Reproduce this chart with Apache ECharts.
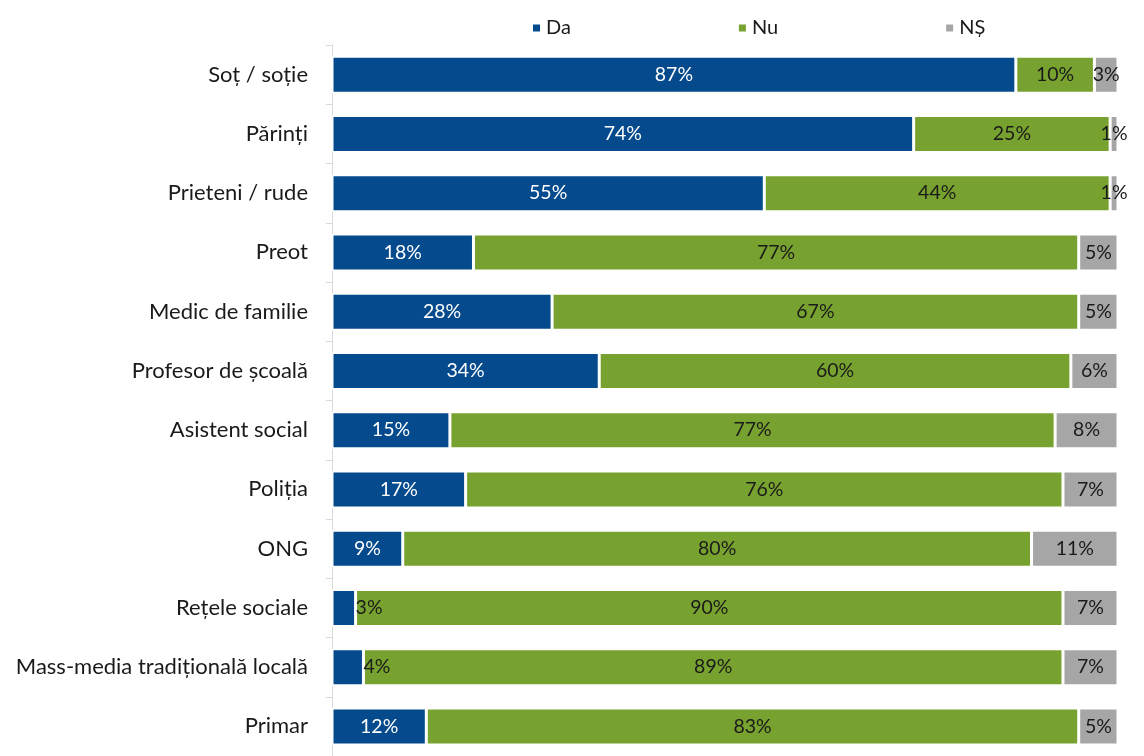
<!DOCTYPE html>
<html>
<head>
<meta charset="utf-8">
<script src="https://cdn.jsdelivr.net/npm/echarts@6/dist/echarts.min.js"></script>
<style>
  html, body { margin: 0; padding: 0; background: #fff; }
  #chart { width: 1144px; height: 756px; }
</style>
</head>
<body>
<div id="chart"></div>
<script>
var categories = ["Soț / soție", "Părinți", "Prieteni / rude", "Preot", "Medic de familie",
  "Profesor de școală", "Asistent social", "Poliția", "ONG", "Rețele sociale",
  "Mass-media tradițională locală", "Primar"];
var daValues = [87, 74, 55, 18, 28, 34, 15, 17, 9, 3, 4, 12];
var nuValues = [10, 25, 44, 77, 67, 60, 77, 76, 80, 90, 89, 83];
var nsValues = [3, 1, 1, 5, 5, 6, 8, 7, 11, 7, 7, 5];

var fontName = "Lato, 'Open Sans', sans-serif";
var colorArr = ["#044a8c", "#78a22f", "#a6a6a6"];

// mici segmente: eticheta iese in dreapta, cu text inchis
var daData = daValues.map(function (v) {
  if (v < 5) {
    return { value: v, label: { position: "right", distance: 0, color: "#1a1a1a" } };
  }
  return v;
});

function barSeries(name, data, idx, labelColor) {
  return {
    name: name,
    type: "bar",
    stack: "total",
    barWidth: 37,
    data: data,
    itemStyle: { color: colorArr[idx], borderColor: "#fff", borderWidth: 1.5 },
    label: {
      show: true,
      position: "inside",
      formatter: "{c}%",
      color: labelColor,
      fontFamily: fontName,
      fontSize: 19.5
    }
  };
}

var myChart = echarts.init(document.getElementById("chart"));
myChart.setOption({
  animation: false,
  textStyle: { fontFamily: fontName },
  legend: {
    top: 13,
    left: 526,
    itemGap: 166,
    itemWidth: 9,
    itemHeight: 9,
    icon: "rect",
    textStyle: { fontSize: 20, color: "#1a1a1a", fontFamily: fontName },
    data: ["Da", "Nu", "NȘ"]
  },
  grid: { left: 332, top: 45, width: 786, height: 720, containLabel: false },
  xAxis: {
    type: "value",
    min: 0,
    max: 100,
    show: false
  },
  yAxis: {
    type: "category",
    inverse: true,
    data: categories,
    axisLine: { show: true, lineStyle: { color: "#d9d9d9", width: 1 } },
    axisTick: { show: true, length: 6, lineStyle: { color: "#d9d9d9" } },
    axisLabel: { fontSize: 22, color: "#1a1a1a", margin: 24, fontFamily: fontName }
  },
  series: [
    barSeries("Da", daData, 0, "#ffffff"),
    barSeries("Nu", nuValues, 1, "#1a1a1a"),
    barSeries("NȘ", nsValues, 2, "#1a1a1a")
  ]
});
</script>
</body>
</html>
